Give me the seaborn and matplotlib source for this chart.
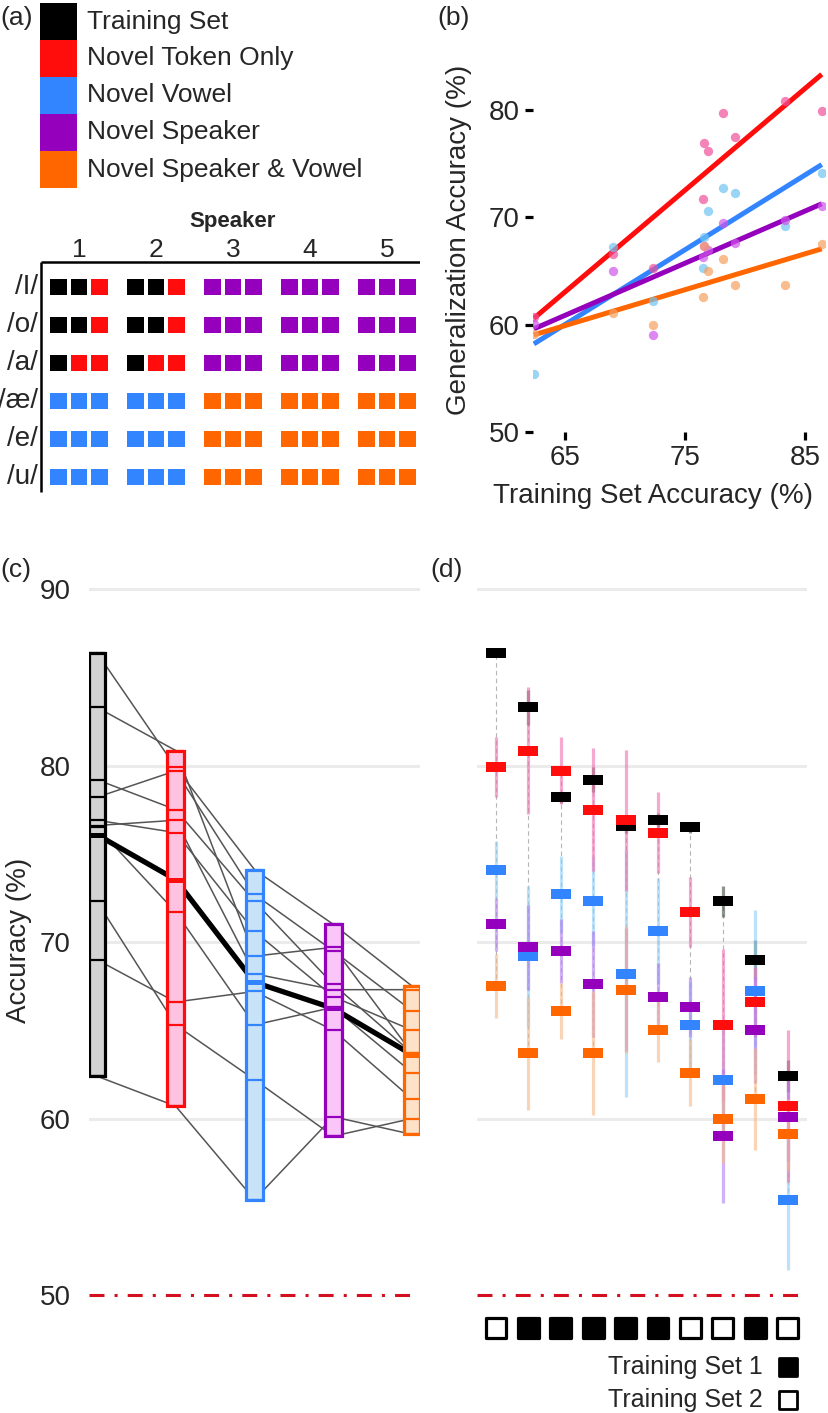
import numpy as np
import pandas as pd
import matplotlib
matplotlib.use('Agg')
import matplotlib.pyplot as plt
import seaborn as sns
from matplotlib.patches import Rectangle

sns.set_style('white')
plt.rcParams['font.family'] = ['Liberation Sans', 'DejaVu Sans']

# Condiciones y colores
conditions = ['Training Set', 'Novel Token Only', 'Novel Vowel', 'Novel Speaker', 'Novel Speaker & Vowel']
main_colors = ['#000000', '#ff0d0d', '#3385ff', '#9400bb', '#ff6600']
point_colors = ['#000000', '#f0509a', '#70c4f2', '#cf55ea', '#f6a060']
fill_colors = ['#d3d3d3', '#ffc2e0', '#c8e3f7', '#fac6fa', '#fde2c8']
err_colors = ['#405040', '#f070b0', '#8fd0f5', '#b27ef0', '#f7b888']

# Accuracy por sujeto (ordenados como en el panel d)
training = [86.4, 83.3, 78.2, 79.2, 76.6, 76.9, 76.5, 72.3, 69.0, 62.4]
novel_token = [79.9, 80.85, 79.7, 77.5, 76.9, 76.2, 71.7, 65.3, 66.6, 60.7]
novel_vowel = [74.1, 69.2, 72.7, 72.3, 68.2, 70.6, 65.3, 62.2, 67.2, 55.4]
novel_speaker = [71.0, 69.7, 69.5, 67.6, 67.3, 66.9, 66.3, 59.0, 65.0, 60.1]
novel_spk_vowel = [67.5, 63.7, 66.1, 63.7, 67.3, 65.0, 62.6, 60.0, 61.1, 59.1]

# Semi-anchos de las barras de error (panel d)
training_err = [0.0, 1.0, 0.3, 0.7, 0.4, 0.4, 0.3, 0.9, 1.1, 0.9]
novel_token_err = [1.7, 3.6, 1.9, 3.5, 4.0, 2.3, 2.0, 4.3, 2.0, 4.3]
novel_vowel_err = [1.6, 4.0, 2.2, 2.5, 7.0, 3.0, 2.5, 3.0, 4.6, 4.0]
novel_speaker_err = [1.5, 2.4, 1.8, 3.0, 3.5, 1.9, 1.7, 3.8, 3.0, 2.5]
novel_spk_vowel_err = [1.8, 3.2, 1.6, 3.5, 3.6, 1.8, 1.9, 2.5, 2.9, 2.0]

# Training set de cada sujeto (1 = lleno, 2 = vacio)
training_set = [2, 1, 1, 1, 1, 1, 2, 2, 1, 2]

# Diseno del panel a: vocal x (hablante, token)
vowels = ['/I/', '/o/', '/a/', '/æ/', '/e/', '/u/']
speakers = ['1', '2', '3', '4', '5']
design = [
    [0, 0, 1, 0, 0, 1, 3, 3, 3, 3, 3, 3, 3, 3, 3],
    [0, 0, 1, 0, 0, 1, 3, 3, 3, 3, 3, 3, 3, 3, 3],
    [0, 1, 1, 0, 1, 1, 3, 3, 3, 3, 3, 3, 3, 3, 3],
    [2, 2, 2, 2, 2, 2, 4, 4, 4, 4, 4, 4, 4, 4, 4],
    [2, 2, 2, 2, 2, 2, 4, 4, 4, 4, 4, 4, 4, 4, 4],
    [2, 2, 2, 2, 2, 2, 4, 4, 4, 4, 4, 4, 4, 4, 4],
]

all_vals = [training, novel_token, novel_vowel, novel_speaker, novel_spk_vowel]
all_errs = [training_err, novel_token_err, novel_vowel_err, novel_speaker_err, novel_spk_vowel_err]

df = pd.DataFrame({c: v for c, v in zip(conditions, all_vals)})
df['subject'] = range(len(training))

W, H = 829, 1413
fig = plt.figure(figsize=(W / 100, H / 100), dpi=100)


def px_axes(left, top, right, bottom):
    return fig.add_axes([left / W, 1 - bottom / H, (right - left) / W, (bottom - top) / H])


# ---------------- Panel a ----------------
ax_a = px_axes(0, 0, 420, 500)
ax_a.set_xlim(0, 420)
ax_a.set_ylim(500, 0)
ax_a.axis('off')
ax_a.text(0, 18, '(a)', va='center', ha='left', fontsize=19)
for i, (name, col) in enumerate(zip(conditions, main_colors)):
    ax_a.add_patch(Rectangle((40, 3 + 37 * i), 37, 37, color=col, lw=0))
    ax_a.text(87, 21.5 + 37 * i, name, va='center', ha='left', fontsize=19)

xs, ys, cs = [], [], []
for r, row in enumerate(design):
    for k, code in enumerate(row):
        s, t = divmod(k, 3)
        xs.append(58.5 + 77 * s + 20.5 * t)
        ys.append(287 + 38 * r)
        cs.append(main_colors[code])
ax_a.scatter(xs, ys, marker='s', s=(16.5 * 0.72) ** 2, c=cs, linewidths=0)
for r, v in enumerate(vowels):
    ax_a.text(38, 287 + 38 * r, v, ha='right', va='center', fontsize=20)
for s, spk in enumerate(speakers):
    ax_a.text(79 + 77 * s, 250, spk, ha='center', va='center', fontsize=19)
ax_a.text(233, 222, 'Speaker', ha='center', va='center', fontsize=16, fontweight='bold')
ax_a.plot([41, 41], [262, 492], color='k', lw=1.8, solid_capstyle='butt')
ax_a.plot([41, 420], [262, 262], color='k', lw=1.8, solid_capstyle='butt')

# ---------------- Panel b ----------------
fig.text(437 / W, 1 - 18 / H, '(b)', va='center', ha='left', fontsize=19)
ax_b = px_axes(533, 40, 825, 432)
for cond, lc in zip(conditions[1:], main_colors[1:]):
    sns.regplot(data=df, x='Training Set', y=cond, scatter=False, ci=None, truncate=True,
                color=lc, line_kws={'lw': 3.6, 'solid_capstyle': 'butt'}, ax=ax_b)
for cond, pc in zip(conditions[1:], point_colors[1:]):
    sns.scatterplot(data=df, x='Training Set', y=cond, color=pc, s=45, alpha=0.7,
                    linewidth=0, ax=ax_b, zorder=3)
ax_b.set_xlim(62.33, 86.67)
ax_b.set_ylim(50, 86.5)
ax_b.set_xticks([65, 75, 85])
ax_b.set_yticks([50, 60, 70, 80])
for sp in ax_b.spines.values():
    sp.set_visible(False)
ax_b.tick_params(bottom=True, left=True, length=5.5, width=2.3, direction='out',
                 labelsize=20, pad=4, color='k')
ax_b.set_xlabel('Training Set Accuracy (%)', fontsize=20)
ax_b.set_ylabel('Generalization Accuracy (%)', fontsize=20)
ax_b.xaxis.set_label_coords(0.41, -0.13)
ax_b.yaxis.set_label_coords(-0.21, 0.49)

# ---------------- Panel c ----------------
ylo, yhi = 49.7, 90.5
fig.text(0, 1 - 570 / H, '(c)', va='center', ha='left', fontsize=19)
ax_c = px_axes(89, 580.2, 420, 1300.3)
long = df.melt(id_vars='subject', value_vars=conditions, var_name='cond', value_name='acc')
long['pos'] = long['cond'].map({c: i for i, c in enumerate(conditions)})
sns.lineplot(data=long, x='pos', y='acc', units='subject', estimator=None, color='#555555',
             lw=1.1, ax=ax_c, legend=False, zorder=2)
sns.lineplot(data=long, x='pos', y='acc', errorbar=None, color='k', lw=3.8, ax=ax_c,
             legend=False, zorder=2.5)
hw = 0.105
for i, (vals, ec, fc) in enumerate(zip(all_vals, main_colors, fill_colors)):
    ax_c.add_patch(Rectangle((i - hw, min(vals)), 2 * hw, max(vals) - min(vals),
                             facecolor=fc, edgecolor=ec, lw=2.3, zorder=3))
    ax_c.hlines(vals, i - hw, i + hw, color=ec, lw=1.6, zorder=4)
    ax_c.hlines(np.mean(vals), i - hw, i + hw, color=ec, lw=3.6, zorder=4)
ax_c.set_xlim(-0.1, 4.1)

# ---------------- Panel d ----------------
fig.text(430 / W, 1 - 570 / H, '(d)', va='center', ha='left', fontsize=19)
ax_d = px_axes(477, 580.2, 807, 1300.3)
cols = np.arange(len(training))
arr = np.array(all_vals)
ax_d.vlines(cols, arr.min(axis=0), arr.max(axis=0), color='#b5b5b5', lw=0.8,
            linestyles=(0, (4, 3)), zorder=1)
draw_order = [0, 2, 1, 3, 4]
for c in draw_order:
    v = np.array(all_vals[c])
    e = np.array(all_errs[c])
    ax_d.vlines(cols, v - e, v + e, color=err_colors[c], lw=2.3, alpha=0.6, zorder=2)
rect = [(-1, -0.5), (1, -0.5), (1, 0.5), (-1, 0.5), (-1, -0.5)]
for c in draw_order:
    ax_d.scatter(cols, all_vals[c], marker=rect, s=207, color=main_colors[c],
                 linewidths=0, zorder=5)
ax_d.set_xlim(-0.586, 9.6)

for ax in (ax_c, ax_d):
    ax.set_ylim(ylo, yhi)
    for sp in ax.spines.values():
        sp.set_visible(False)
    for g in [60, 70, 80, 90]:
        ax.axhline(g, color='#ebebeb', lw=2.2, zorder=0)
    ax.axhline(50, color='#d41020', lw=2.2, linestyle=(0, (4.9, 3.3, 1, 3.3)), zorder=1)
    ax.set_xticks([])
    ax.set_xlabel('')
    ax.set_ylabel('')

ax_c.set_yticks([50, 60, 70, 80, 90])
ax_c.tick_params(left=False, labelsize=20, pad=9.5)
ax_c.set_ylabel('Accuracy (%)', fontsize=20)
ax_c.yaxis.set_label_coords(-0.172, 0.5)
ax_d.set_yticks([])

# Training set por sujeto
ax_ts = px_axes(477, 1305, 807, 1413)
ax_ts.set_xlim(-0.586, 9.6)
ax_ts.set_ylim(1413, 1305)
ax_ts.axis('off')
ax_ts.scatter(cols, [1328] * len(cols), marker='s', s=225,
              facecolors=['k' if t == 1 else 'w' for t in training_set],
              edgecolors='k', linewidths=2.3)
ax_ts.scatter([9, 9], [1367, 1400], marker='s', s=170, facecolors=['k', 'w'],
              edgecolors='k', linewidths=2.0)
ax_ts.text(9 - 25 / 32.4, 1367, 'Training Set 1', ha='right', va='center', fontsize=18)
ax_ts.text(9 - 25 / 32.4, 1400, 'Training Set 2', ha='right', va='center', fontsize=18)

fig.savefig('out.png', dpi=100)
